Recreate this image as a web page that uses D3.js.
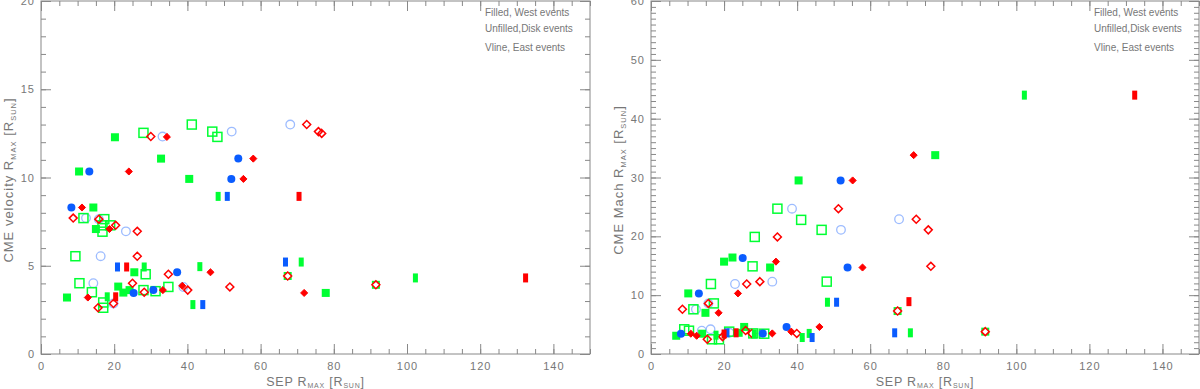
<!DOCTYPE html>
<html>
<head>
<meta charset="utf-8">
<title>CME vs SEP Rmax</title>
<style>
body { margin: 0; background: #fff; }
svg { display: block; }
text { font-family: "Liberation Sans", Arial, sans-serif; fill: #777; }
</style>
<script src="https://d3js.org/d3.v7.min.js"></script>
</head>
<body>
<svg id="chart" width="1200" height="389"></svg>
<script>
// left panel: CME velocity Rmax vs SEP Rmax
const velGreenSq = [[20.2,12.28],[32.8,11.07],[10.4,10.34],[40.5,9.92],[14.3,8.3],[15.0,7.08],[25.5,4.63],[21.1,3.82],[22.5,3.48],[24.2,3.62],[7.1,3.2],[77.8,3.46]];
const velGreenOpen = [[28.0,12.53],[41.2,13.0],[46.8,12.6],[48.2,12.3],[11.6,7.7],[17.3,7.64],[16.8,7.29],[18.9,7.29],[16.8,6.93],[9.4,5.54],[28.6,4.52],[10.5,4.01],[13.9,3.5],[28.0,3.62],[31.3,3.56],[34.8,3.8],[17.0,2.62],[17.0,2.92]];
const velBlueDot = [[13.2,10.34],[53.9,11.07],[52.0,9.92],[8.3,8.3],[37.2,4.63],[25.3,3.46],[30.7,3.62]];
const velBlueOpen = [[33.2,12.32],[52.1,12.6],[68.1,13.0],[12.3,7.7],[15.8,7.64],[23.2,6.95],[16.3,5.54],[14.3,4.01],[38.9,3.8],[19.8,2.86]];
const velRedDia = [[34.4,12.3],[58.0,11.07],[24.0,10.34],[55.3,9.92],[11.2,8.3],[18.7,7.08],[46.3,4.63],[33.3,3.62],[38.6,3.86],[12.8,3.2],[71.9,3.46]];
const velRedOpen = [[30.0,12.32],[72.6,13.0],[75.8,12.6],[76.7,12.5],[8.8,7.7],[15.8,7.64],[20.4,7.29],[26.3,6.95],[26.3,5.54],[34.8,4.52],[25.0,4.01],[28.2,3.5],[40.1,3.62],[51.6,3.8],[15.6,2.62],[19.8,2.86]];
const velGreenV = [[48.4,8.93],[28.2,4.93],[43.4,4.95],[18.1,3.24],[41.5,2.8],[71.1,5.21],[102.3,4.31]];
const velBlueV = [[50.9,8.93],[20.9,4.93],[44.2,2.8],[66.8,5.21]];
const velRedV = [[70.5,8.93],[23.4,4.93],[20.4,3.24],[132.4,4.31]];
const velBoth = [[67.4,4.42],[91.5,3.92]];

// right panel: CME Mach Rmax vs SEP Rmax
const machGreenSq = [[40.4,29.5],[77.8,33.8],[20.0,15.7],[22.3,16.4],[32.6,14.7],[10.2,10.3],[14.9,7.0],[6.9,3.1],[14.0,3.45],[24.0,3.6],[25.5,4.6]];
const machGreenOpen = [[34.6,24.7],[41.1,22.8],[46.7,21.1],[28.4,19.9],[27.8,14.9],[16.4,11.9],[48.1,12.3],[11.6,7.6],[17.2,8.6],[9.1,4.2],[10.4,3.96],[16.7,2.5],[18.6,2.5],[21.4,3.8],[28.0,3.5],[31.0,3.45]];
const machBlueDot = [[51.9,29.5],[25.1,16.3],[53.8,14.7],[13.1,10.3],[8.2,3.45],[30.6,3.5],[37.1,4.6]];
const machBlueOpen = [[38.6,24.7],[52.0,21.1],[67.9,22.9],[23.0,11.9],[33.2,12.3],[12.3,7.6],[15.7,8.6],[13.9,3.96],[16.3,4.2],[21.5,3.6]];
const machRedDia = [[55.2,29.5],[71.9,33.8],[34.2,15.7],[57.9,14.7],[23.8,10.3],[18.5,7.0],[10.9,3.45],[12.5,3.1],[33.2,3.5],[38.4,3.8],[46.1,4.6]];
const machRedOpen = [[51.3,24.7],[34.6,19.9],[26.2,11.9],[29.8,12.3],[8.6,7.6],[15.7,8.6],[72.6,22.9],[75.9,21.1],[76.6,14.9],[15.4,2.5],[19.6,2.95],[25.9,4.0],[27.6,3.5],[39.9,3.5]];
const machGreenV = [[48.3,8.8],[17.8,3.2],[28.3,3.4],[41.4,2.8],[43.3,3.5],[71.0,3.6],[102.2,44.0]];
const machBlueV = [[50.8,8.8],[20.8,3.6],[44.1,2.8],[66.7,3.6]];
const machRedV = [[70.6,8.9],[20.0,3.4],[23.3,3.6],[132.4,44.0]];
const machBoth = [[67.5,7.3],[91.5,3.8]];

const xTicks = [0, 20, 40, 60, 80, 100, 120, 140];
const legendLines = ["Filled, West events", "Unfilled,Disk events", "Vline, East events"];

const GREEN = "#00ff33", BLUE = "#0a5cff", LBLUE = "#9dbcff", RED = "#ff0000";

const svg = d3.select("#chart");

function drawPanel(opt) {
    const x = d3.scaleLinear().domain([0, 150]).range([opt.left, opt.right]);
    const y = d3.scaleLinear().domain([0, opt.yMax]).range([354, 1]);
    const g = svg.append("g");

    // frame
    g.append("rect").attr("x", opt.left).attr("y", 1)
        .attr("width", opt.right - opt.left).attr("height", 353)
        .attr("fill", "none").attr("stroke", "#888").attr("stroke-width", 1);

    const minorX = d3.range(0, 151, 5);
    const minorY = d3.range(0, opt.yMax + 0.1, opt.yMinor);

    const axes = [
        [d3.axisBottom(x).tickValues(xTicks).tickSize(-10).tickPadding(8), `translate(0,354)`],
        [d3.axisBottom(x).tickValues(minorX).tickSize(-5).tickFormat(""), `translate(0,354)`],
        [d3.axisTop(x).tickValues(xTicks).tickSize(-10).tickFormat(""), `translate(0,1)`],
        [d3.axisTop(x).tickValues(minorX).tickSize(-5).tickFormat(""), `translate(0,1)`],
        [d3.axisLeft(y).tickValues(opt.yTicks).tickSize(-10).tickPadding(6), `translate(${opt.left},0)`],
        [d3.axisLeft(y).tickValues(minorY).tickSize(-5).tickFormat(""), `translate(${opt.left},0)`],
        [d3.axisRight(y).tickValues(opt.yTicks).tickSize(-10).tickFormat(""), `translate(${opt.right},0)`],
        [d3.axisRight(y).tickValues(minorY).tickSize(-5).tickFormat(""), `translate(${opt.right},0)`]
    ];
    axes.forEach(([ax, tr]) => {
        const a = g.append("g").attr("transform", tr).call(ax);
        a.select(".domain").remove();
        a.selectAll("line").attr("stroke", "#888");
        a.selectAll("text").attr("fill", "#777").style("font-size", "11px").style("letter-spacing", "1px");
    });

    // axis titles
    const xl = g.append("text").attr("x", (opt.left + opt.right) / 2).attr("y", 386)
        .attr("text-anchor", "middle").style("font-size", "12.5px").style("letter-spacing", "0.8px");
    xl.append("tspan").text("SEP  R");
    xl.append("tspan").text("MAX").style("font-size", "7px").attr("dy", 2);
    xl.append("tspan").text(" [R").attr("dy", -2);
    xl.append("tspan").text("SUN").style("font-size", "7px").attr("dy", 2);
    xl.append("tspan").text("]").attr("dy", -2);

    const yl = g.append("text").attr("transform", `translate(${opt.left - 28},180) rotate(-90)`)
        .attr("text-anchor", "middle").style("font-size", "13px").style("letter-spacing", "1px");
    yl.append("tspan").text(opt.yTitle + "  R");
    yl.append("tspan").text("MAX").style("font-size", "7.5px").attr("dy", 3);
    yl.append("tspan").text(" [R").attr("dy", -3);
    yl.append("tspan").text("SUN").style("font-size", "7.5px").attr("dy", 3);
    yl.append("tspan").text("]").attr("dy", -3);

    g.selectAll(".leg").data(legendLines).join("text")
        .attr("x", opt.right - 105).attr("y", (d, i) => [16, 32, 51][i])
        .style("font-size", "10px").attr("fill", "#666").text(d => d);

    const d = opt.data;
    const px = p => x(p[0]), py = p => y(p[1]);

    // open circles
    g.selectAll(".bo").data(d.blueOpen).join("circle")
        .attr("cx", px).attr("cy", py).attr("r", 4.3)
        .attr("fill", "none").attr("stroke", LBLUE).attr("stroke-width", 1.3);
    // open squares
    g.selectAll(".go").data(d.greenOpen).join("rect")
        .attr("x", p => px(p) - 4.5).attr("y", p => py(p) - 4.5)
        .attr("width", 9).attr("height", 9)
        .attr("fill", "none").attr("stroke", GREEN).attr("stroke-width", 1.5);
    // filled squares
    g.selectAll(".gs").data(d.greenSq.concat(d.both)).join("rect")
        .attr("x", p => px(p) - 4).attr("y", p => py(p) - 4)
        .attr("width", 8).attr("height", 8).attr("fill", GREEN);
    // filled circles
    g.selectAll(".bd").data(d.blueDot).join("circle")
        .attr("cx", px).attr("cy", py).attr("r", 4).attr("fill", BLUE);
    // filled diamonds
    const dia = d3.symbol().type(d3.symbolDiamond2).size(32);
    g.selectAll(".rd").data(d.redDia).join("path")
        .attr("d", dia).attr("transform", p => `translate(${px(p)},${py(p)})`)
        .attr("fill", RED).attr("stroke", RED).attr("stroke-width", 1);
    // open diamonds
    const diaO = d3.symbol().type(d3.symbolDiamond2).size(40);
    g.selectAll(".ro").data(d.redOpen).join("path")
        .attr("d", diaO).attr("transform", p => `translate(${px(p)},${py(p)})`)
        .attr("fill", "none").attr("stroke", RED).attr("stroke-width", 1.5);
    g.selectAll(".rb").data(d.both).join("path")
        .attr("d", diaO).attr("transform", p => `translate(${px(p)},${py(p)})`)
        .attr("fill", "#fff").attr("stroke", RED).attr("stroke-width", 1.5);
    // vertical bars
    [[d.greenV, GREEN], [d.blueV, BLUE], [d.redV, RED]].forEach(([arr, col]) => {
        g.selectAll(null).data(arr).join("rect")
            .attr("x", p => px(p) - 2.5).attr("y", p => py(p) - 4.5)
            .attr("width", 5).attr("height", 9).attr("fill", col);
    });
}

drawPanel({
    left: 41, right: 590, yMax: 20, yTicks: [0, 5, 10, 15, 20], yMinor: 1,
    yTitle: "CME velocity",
    data: { greenSq: velGreenSq, greenOpen: velGreenOpen, blueDot: velBlueDot, blueOpen: velBlueOpen,
            redDia: velRedDia, redOpen: velRedOpen, greenV: velGreenV, blueV: velBlueV, redV: velRedV, both: velBoth }
});
drawPanel({
    left: 651, right: 1199, yMax: 60, yTicks: [0, 10, 20, 30, 40, 50, 60], yMinor: 1,
    yTitle: "CME Mach",
    data: { greenSq: machGreenSq, greenOpen: machGreenOpen, blueDot: machBlueDot, blueOpen: machBlueOpen,
            redDia: machRedDia, redOpen: machRedOpen, greenV: machGreenV, blueV: machBlueV, redV: machRedV, both: machBoth }
});
</script>
</body>
</html>
